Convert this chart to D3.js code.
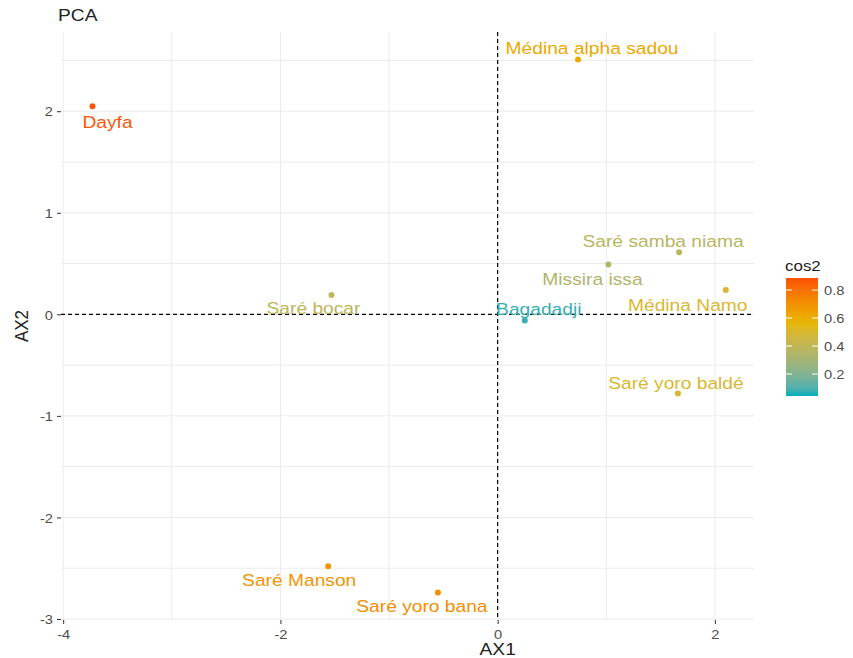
<!DOCTYPE html>
<html>
<head>
<meta charset="utf-8">
<script src="https://cdn.jsdelivr.net/npm/d3@7"></script>
<style>
  html, body { margin: 0; padding: 0; background: #fff; }
  svg text { font-family: "Liberation Sans", Arial, sans-serif; }
</style>
</head>
<body>
<svg id="chart" width="853" height="658"></svg>
<script>
// Individuals on the first two principal axes
const names = ["Dayfa", "Médina alpha sadou", "Saré samba niama", "Missira issa", "Médina Namo",
               "Bagadadji", "Saré bocar", "Saré yoro baldé", "Saré Manson", "Saré yoro bana"];
const ax1 = [-3.73, 0.74, 1.67, 1.02, 2.10, 0.25, -1.53, 1.66, -1.56, -0.55];
const ax2 = [2.05, 2.51, 0.61, 0.49, 0.24, -0.06, 0.19, -0.78, -2.48, -2.74];
const cos2 = [0.87, 0.62, 0.37, 0.34, 0.50, 0.07, 0.39, 0.50, 0.69, 0.71];

const xTicks = [-4, -2, 0, 2];
const yTicks = [-3, -2, -1, 0, 1, 2];
const legendTicks = [0.2, 0.4, 0.6, 0.8];
const gradientColors = ["#00AFBB", "#E7B800", "#FC4E07"];
const cosRange = [0.043, 0.886];

const svg = d3.select("#chart");
const panel = { left: 61, right: 754, top: 32, bottom: 620 };
const stretch = 1.13; // horizontal widening of all text

const x = d3.scaleLinear().domain([-4.02, 2.36]).range([panel.left, panel.right]);
const y = d3.scaleLinear().domain([-3.01, 2.78]).range([panel.bottom, panel.top]);
const color = d3.scaleLinear()
  .domain([cosRange[0], 0.56, cosRange[1]])
  .range(gradientColors)
  .interpolate(d3.interpolateLab);

// helper: text anchored at (px, py) and widened horizontally
function label(sel, px, py) {
  return sel.attr("x", 0).attr("y", 0)
    .attr("transform", (d, i) => `translate(${typeof px === "function" ? px(d, i) : px},${typeof py === "function" ? py(d, i) : py}) scale(${stretch},1)`);
}

// grid (major + minor)
const grid = svg.append("g");
const xGrid = d3.range(-4, 2.5, 1);
const yGrid = d3.range(-3, 2.6, 0.5);
grid.selectAll("line.vx").data(xGrid).join("line")
  .attr("x1", d => x(d)).attr("x2", d => x(d))
  .attr("y1", panel.top).attr("y2", panel.bottom)
  .attr("stroke", "#EBEBEB").attr("stroke-width", 1);
grid.selectAll("line.hy").data(yGrid).join("line")
  .attr("y1", d => y(d)).attr("y2", d => y(d))
  .attr("x1", panel.left).attr("x2", panel.right)
  .attr("stroke", "#EBEBEB").attr("stroke-width", 1);

// reference lines at the origin
svg.append("line").attr("x1", x(0)).attr("x2", x(0)).attr("y1", panel.top).attr("y2", panel.bottom)
  .attr("stroke", "#000").attr("stroke-width", 1.2).attr("stroke-dasharray", "4,3");
svg.append("line").attr("y1", y(0)).attr("y2", y(0)).attr("x1", panel.left).attr("x2", panel.right)
  .attr("stroke", "#000").attr("stroke-width", 1.2).attr("stroke-dasharray", "4,3");

// axes
const fmt = d => d < 0 ? "-" + Math.abs(d) : String(d);
const xAxis = d3.axisBottom(x).tickValues(xTicks).tickSize(4).tickFormat(fmt);
const yAxis = d3.axisLeft(y).tickValues(yTicks).tickSize(4).tickFormat(fmt);
const gx = svg.append("g").attr("transform", `translate(0,${panel.bottom})`).call(xAxis);
const gy = svg.append("g").attr("transform", `translate(${panel.left},0)`).call(yAxis);
[gx, gy].forEach(g => {
  g.select(".domain").remove();
  g.selectAll(".tick line").attr("stroke", "#333").attr("stroke-width", 1);
  g.selectAll(".tick text").attr("fill", "#4D4D4D").style("font-size", "13px");
});
gx.selectAll(".tick text").attr("dy", null).attr("dominant-baseline", "central");
label(gx.selectAll(".tick text"), 0, 14);
gy.selectAll(".tick text").attr("dy", null).attr("dominant-baseline", "central");
label(gy.selectAll(".tick text"), -8, 0);

// axis titles and title
label(svg.append("text").attr("text-anchor", "middle")
  .style("font-size", "17px").attr("fill", "#222").text("AX1"), x(0), 655);
svg.append("text").attr("transform", `translate(28,${(panel.top + panel.bottom) / 2}) rotate(-90) scale(1,${stretch})`)
  .attr("text-anchor", "middle").style("font-size", "17px").attr("fill", "#222").text("AX2");
label(svg.append("text").style("font-size", "17px").attr("fill", "#222").text("PCA"), 58, 21);

// points and labels
const labelOffset = {
  "Dayfa": [15, 16], "Médina alpha sadou": [14, -11], "Saré samba niama": [-16, -11],
  "Missira issa": [-16, 15], "Médina Namo": [-38, 15], "Bagadadji": [14, -11],
  "Saré bocar": [-18, 13], "Saré yoro baldé": [-2, -10], "Saré Manson": [-29, 14],
  "Saré yoro bana": [-16, 14]
};
const rows = names.map((n, i) => ({ name: n, ax1: ax1[i], ax2: ax2[i], cos2: cos2[i] }));
svg.append("g").selectAll("circle").data(rows).join("circle")
  .attr("cx", d => x(d.ax1)).attr("cy", d => y(d.ax2)).attr("r", 3)
  .attr("fill", d => color(d.cos2));
label(svg.append("g").selectAll("text").data(rows).join("text")
  .attr("text-anchor", "middle").attr("dominant-baseline", "central")
  .style("font-size", "17px").attr("fill", d => color(d.cos2))
  .text(d => d.name),
  d => x(d.ax1) + labelOffset[d.name][0],
  d => y(d.ax2) + labelOffset[d.name][1]);

// colour bar legend
const bar = { x: 786, w: 32, top: 278, bottom: 396 };
const ly = d3.scaleLinear().domain(cosRange).range([bar.bottom, bar.top]);
const defs = svg.append("defs");
const grad = defs.append("linearGradient").attr("id", "cosGrad")
  .attr("x1", 0).attr("y1", 1).attr("x2", 0).attr("y2", 0);
d3.range(0, 1.0001, 0.05).forEach(t => {
  grad.append("stop").attr("offset", t)
    .attr("stop-color", color(cosRange[0] + t * (cosRange[1] - cosRange[0])));
});
svg.append("rect").attr("x", bar.x).attr("y", bar.top).attr("width", bar.w)
  .attr("height", bar.bottom - bar.top).attr("fill", "url(#cosGrad)");
const lg = svg.append("g");
lg.selectAll("line.l").data(legendTicks).join("line")
  .attr("x1", bar.x).attr("x2", bar.x + 6).attr("y1", d => ly(d)).attr("y2", d => ly(d))
  .attr("stroke", "#fff").attr("stroke-width", 1);
lg.selectAll("line.r").data(legendTicks).join("line")
  .attr("x1", bar.x + bar.w - 6).attr("x2", bar.x + bar.w).attr("y1", d => ly(d)).attr("y2", d => ly(d))
  .attr("stroke", "#fff").attr("stroke-width", 1);
label(lg.selectAll("text").data(legendTicks).join("text")
  .attr("dominant-baseline", "central")
  .style("font-size", "13px").attr("fill", "#4D4D4D").text(d => d.toFixed(1)),
  bar.x + bar.w + 6, d => ly(d));
label(svg.append("text").style("font-size", "15px").attr("fill", "#222").text("cos2"), 785, 271);
</script>
</body>
</html>
